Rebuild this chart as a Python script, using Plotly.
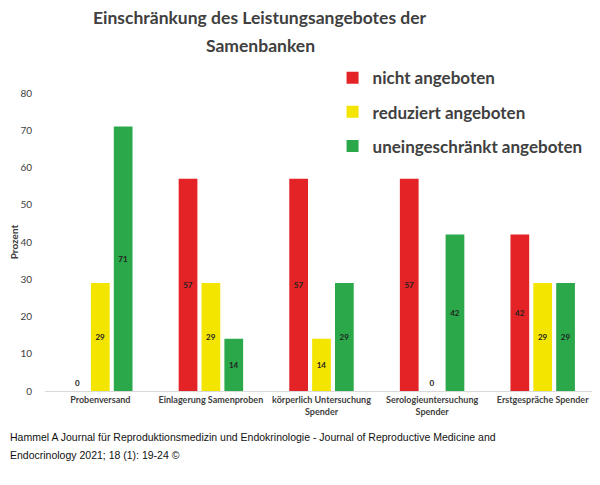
import plotly.graph_objects as go

categories = [
    "Probenversand",
    "Einlagerung Samenproben",
    "körperlich Untersuchung<br>Spender",
    "Serologieuntersuchung<br>Spender",
    "Erstgespräche Spender",
]
series_names = ["nicht angeboten", "reduziert angeboten", "uneingeschränkt angeboten"]
nicht = [0, 57, 57, 57, 42]
reduziert = [29, 29, 14, 0, 29]
uneingeschraenkt = [71, 14, 29, 42, 29]
colors = ["#E42326", "#F3E500", "#2BA84A"]
y_ticks = [0, 10, 20, 30, 40, 50, 60, 70, 80]

title_lines = ["Einschränkung des Leistungsangebotes der", "Samenbanken"]
caption_lines = [
    "Hammel A Journal für Reproduktionsmedizin und Endokrinologie - Journal of Reproductive Medicine and",
    "Endocrinology 2021; 18 (1): 19-24 ©",
]

FONT = "Lato"
DARK = "#404040"

fig = go.Figure()
for name, values, color in zip(series_names, [nicht, reduziert, uneingeschraenkt], colors):
    fig.add_trace(
        go.Bar(
            x=categories,
            y=values,
            name=name,
            legendgroup=name,
            marker=dict(color=color, line=dict(width=0)),
            text=[str(v) for v in values],
            textposition=["inside" if v > 0 else "outside" for v in values],
            insidetextanchor="middle",
            textfont=dict(family=FONT, size=8, color="#222222", weight="bold"),
            cliponaxis=False,
        )
    )

# the page adds an 8px body margin, so the figure is 8px smaller than the window
fig.update_layout(
    width=592,
    height=477,
    paper_bgcolor="white",
    plot_bgcolor="white",
    barmode="group",
    bargap=0.38,
    bargroupgap=0.18,
    margin=dict(l=37, r=2, t=85, b=94, autoexpand=False),
    font=dict(family=FONT, color=DARK),
    legend=dict(
        x=0.520,
        y=1.11,
        xanchor="left",
        yanchor="top",
        bgcolor="rgba(0,0,0,0)",
        tracegroupgap=9,
        font=dict(family=FONT, size=17, color=DARK, weight="bold"),
        itemwidth=30,
    ),
    uniformtext=dict(minsize=8, mode="show"),
    showlegend=True,
)

fig.update_xaxes(
    automargin=False,
    showgrid=False,
    showline=True,
    linecolor="#D9D9D9",
    linewidth=1,
    ticks="",
    tickfont=dict(family=FONT, size=9, color=DARK, weight="bold"),
)
fig.update_yaxes(
    automargin=False,
    range=[0, 80],
    tickvals=y_ticks,
    showgrid=False,
    zeroline=False,
    showline=False,
    ticks="",
    ticklabelstandoff=12,
    tickfont=dict(family=FONT, size=10, color=DARK),
    title=dict(text="Prozent", standoff=8, font=dict(family=FONT, size=10, color=DARK, weight="bold")),
)

for line, y in zip(title_lines, [1.252, 1.161]):
    fig.add_annotation(
        text=line,
        xref="paper",
        yref="paper",
        x=0.389,
        y=y,
        xanchor="center",
        yanchor="middle",
        showarrow=False,
        font=dict(family=FONT, size=17.5, color=DARK, weight="bold"),
    )

for line, y in zip(caption_lines, [-0.154, -0.215]):
    fig.add_annotation(
        text=line,
        xref="paper",
        yref="paper",
        x=-37 / 553,
        y=y,
        xanchor="left",
        yanchor="middle",
        showarrow=False,
        font=dict(family="Liberation Sans", size=10.5, color="#111111"),
    )

fig.write_html("out.html")
